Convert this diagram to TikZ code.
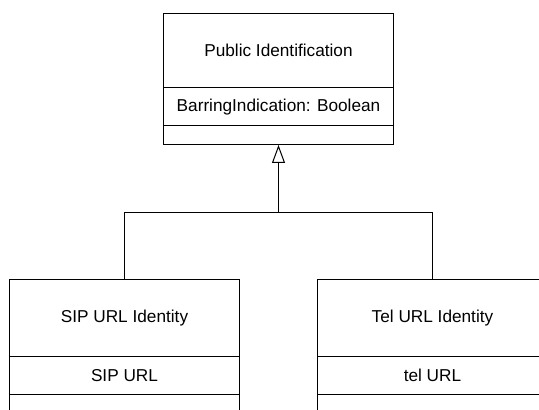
\documentclass[tikz,border=0pt]{standalone}
\usepackage{fontspec}
\setmainfont{Liberation Sans}
\usetikzlibrary{positioning}
\usetikzlibrary{arrows.meta}
\newcommand{\umlfont}{\fontsize{9.8}{12}\selectfont}

\begin{document}
\begin{tikzpicture}[x=0.02cm, y=-0.02cm, line width=0.57pt, font=\umlfont,
  compart/.style={draw, minimum width=4.6cm, inner sep=0, outer sep=0}]
\path[use as bounding box, clip] (0,0) rectangle (539,410);
% superclass
\node[compart, minimum height=1.5cm] (pub name) at (278.5,50.5) {Public Identification};
\node[compart, minimum height=0.76cm, below=0pt of pub name] (pub attr) {BarringIndication: Boolean};
\node[compart, minimum height=0.38cm, below=0pt of pub attr] (pub ops) {};
% subclasses
\node[compart, minimum height=1.54cm] (sip name) at (124.5,318) {SIP URL Identity};
\node[compart, minimum height=0.76cm, below=0pt of sip name] (sip attr) {SIP URL};
\node[compart, minimum height=0.38cm, below=0pt of sip attr] (sip ops) {};
\node[compart, minimum height=1.54cm] (tel name) at (432.5,318) {Tel URL Identity};
\node[compart, minimum height=0.76cm, below=0pt of tel name] (tel attr) {tel URL};
\node[compart, minimum height=0.38cm, below=0pt of tel attr] (tel ops) {};
% generalisation
\coordinate (bus) at (278.5,212.5);
\draw (sip name.north) |- (bus) -| (tel name.north);
\draw[-{Triangle[open, length=0.36cm, width=0.26cm]}] (bus) -- (pub ops.south);
\end{tikzpicture}
\end{document}
